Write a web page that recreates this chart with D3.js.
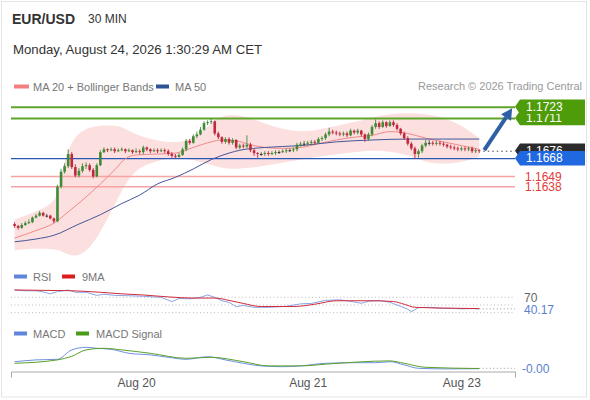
<!DOCTYPE html>
<html><head><meta charset="utf-8">
<script src="https://cdn.jsdelivr.net/npm/d3@7"></script>
<style>body{margin:0;background:#fff;font-family:"Liberation Sans",Arial,sans-serif}svg{display:block}</style>
</head><body><svg id="c" width="590" height="400"></svg>
<script>
// ---- data ----
const opens=[1.1598,1.1596,1.1594,1.1597,1.1599,1.1600,1.1605,1.1607,1.1610,1.1607,
 1.1607,1.1604,1.1601,1.1638,1.1654,1.1660,1.1673,1.1659,1.1650,1.1655,
 1.1660,1.1661,1.1656,1.1649,1.1661,1.1675,1.1678,1.1677,1.1678,1.1676,
 1.1677,1.1678,1.1676,1.1677,1.1675,1.1676,1.1675,1.1680,1.1678,1.1676,
 1.1677,1.1676,1.1677,1.1676,1.1673,1.1671,1.1670,1.1672,1.1678,1.1687,
 1.1685,1.1692,1.1694,1.1699,1.1706,1.1707,1.1708,1.1695,1.1691,1.1686,
 1.1689,1.1685,1.1688,1.1680,1.1682,1.1681,1.1683,1.1677,1.1674,1.1673,
 1.1673,1.1674,1.1673,1.1674,1.1675,1.1675,1.1676,1.1677,1.1677,1.1678,
 1.1683,1.1684,1.1684,1.1685,1.1686,1.1685,1.1689,1.1690,1.1694,1.1697,
 1.1696,1.1695,1.1694,1.1695,1.1693,1.1698,1.1696,1.1698,1.1694,1.1689,
 1.1694,1.1702,1.1706,1.1702,1.1707,1.1703,1.1707,1.1704,1.1700,1.1695,
 1.1690,1.1684,1.1679,1.1673,1.1676,1.1682,1.1685,1.1685,1.1684,1.1685,
 1.1684,1.1683,1.1681,1.1680,1.1679,1.1678,1.1679,1.1678,1.1679,1.1676,
 1.1677];
const highs=[1.1600,1.1597,1.1599,1.1601,1.1603,1.1606,1.1609,1.1612,1.1611,1.1609,
 1.1608,1.1605,1.1640,1.1657,1.1663,1.1678,1.1675,1.1662,1.1658,1.1663,
 1.1664,1.1663,1.1658,1.1663,1.1677,1.1680,1.1679,1.1680,1.1680,1.1679,
 1.1680,1.1679,1.1679,1.1678,1.1679,1.1678,1.1682,1.1681,1.1679,1.1679,
 1.1679,1.1679,1.1679,1.1678,1.1675,1.1673,1.1674,1.1680,1.1689,1.1689,
 1.1694,1.1697,1.1702,1.1708,1.1709,1.1711,1.1709,1.1697,1.1692,1.1691,
 1.1691,1.1690,1.1689,1.1684,1.1684,1.1693,1.1685,1.1679,1.1675,1.1675,
 1.1676,1.1676,1.1676,1.1677,1.1677,1.1678,1.1679,1.1679,1.1680,1.1685,
 1.1686,1.1687,1.1687,1.1688,1.1688,1.1691,1.1692,1.1696,1.1701,1.1699,
 1.1698,1.1697,1.1697,1.1697,1.1700,1.1699,1.1700,1.1699,1.1695,1.1696,
 1.1704,1.1710,1.1708,1.1709,1.1708,1.1709,1.1709,1.1706,1.1701,1.1697,
 1.1692,1.1686,1.1681,1.1678,1.1684,1.1688,1.1688,1.1687,1.1687,1.1687,
 1.1686,1.1684,1.1683,1.1682,1.1681,1.1681,1.1681,1.1681,1.1681,1.1679,
 1.1678];
const lows=[1.1594,1.1592,1.1593,1.1596,1.1598,1.1599,1.1604,1.1606,1.1606,1.1605,
 1.1603,1.1599,1.1600,1.1636,1.1652,1.1658,1.1657,1.1648,1.1648,1.1653,
 1.1657,1.1654,1.1647,1.1648,1.1660,1.1674,1.1675,1.1676,1.1674,1.1675,
 1.1676,1.1674,1.1675,1.1673,1.1674,1.1673,1.1673,1.1676,1.1674,1.1675,
 1.1674,1.1675,1.1674,1.1671,1.1669,1.1668,1.1669,1.1671,1.1676,1.1683,
 1.1684,1.1690,1.1693,1.1698,1.1704,1.1705,1.1693,1.1689,1.1684,1.1684,
 1.1683,1.1683,1.1678,1.1678,1.1679,1.1679,1.1675,1.1671,1.1669,1.1671,
 1.1671,1.1671,1.1672,1.1672,1.1673,1.1674,1.1674,1.1675,1.1675,1.1676,
 1.1681,1.1682,1.1682,1.1683,1.1683,1.1684,1.1687,1.1688,1.1692,1.1694,
 1.1693,1.1692,1.1692,1.1691,1.1692,1.1694,1.1694,1.1692,1.1686,1.1687,
 1.1692,1.1700,1.1700,1.1701,1.1701,1.1702,1.1702,1.1698,1.1693,1.1688,
 1.1682,1.1677,1.1668,1.1669,1.1674,1.1680,1.1682,1.1682,1.1682,1.1682,
 1.1681,1.1679,1.1678,1.1677,1.1676,1.1676,1.1676,1.1676,1.1674,1.1674,
 1.1674];
const closes=[1.1596,1.1594,1.1597,1.1599,1.1600,1.1605,1.1607,1.1610,1.1607,1.1607,
 1.1604,1.1601,1.1638,1.1654,1.1660,1.1673,1.1659,1.1650,1.1655,1.1660,
 1.1661,1.1656,1.1649,1.1661,1.1675,1.1678,1.1677,1.1678,1.1676,1.1677,
 1.1678,1.1676,1.1677,1.1675,1.1676,1.1675,1.1680,1.1678,1.1676,1.1677,
 1.1676,1.1677,1.1676,1.1673,1.1671,1.1670,1.1672,1.1678,1.1687,1.1685,
 1.1692,1.1694,1.1699,1.1706,1.1707,1.1708,1.1695,1.1691,1.1686,1.1689,
 1.1685,1.1688,1.1680,1.1682,1.1681,1.1683,1.1677,1.1674,1.1673,1.1673,
 1.1674,1.1673,1.1674,1.1675,1.1675,1.1676,1.1677,1.1677,1.1678,1.1683,
 1.1684,1.1684,1.1685,1.1686,1.1685,1.1689,1.1690,1.1694,1.1697,1.1696,
 1.1695,1.1694,1.1695,1.1693,1.1698,1.1696,1.1698,1.1694,1.1689,1.1694,
 1.1702,1.1706,1.1702,1.1707,1.1703,1.1707,1.1704,1.1700,1.1695,1.1690,
 1.1684,1.1679,1.1673,1.1676,1.1682,1.1685,1.1685,1.1684,1.1685,1.1684,
 1.1683,1.1681,1.1680,1.1679,1.1678,1.1679,1.1678,1.1679,1.1676,1.1677,
 1.1676];

const bbIdx=[0,6,12,13,15,18,22,27,30,32,35,40,45,48,52,55,58,62,66,72,80,85,90,95,100,105,110,115,120,125,130];
const bbUpper=[1.1603,1.1611,1.1622,1.1650,1.1680,1.1697,1.1703,1.1704,1.1702,1.1698,1.1692,1.1687,1.1685,1.1687,1.1695,1.1706,1.1714,1.1715,1.1712,1.1702,1.1696,1.1699,1.1703,1.1707,1.1712,1.1716,1.1717,1.1716,1.1712,1.1704,1.1690];
const bbLower=[1.1570,1.1572,1.1571,1.1569,1.1565,1.1563,1.1575,1.1611,1.1634,1.1647,1.1659,1.1666,1.1669,1.1668,1.1665,1.1661,1.1658,1.1657,1.1658,1.1662,1.1667,1.1670,1.1673,1.1675,1.1677,1.1676,1.1672,1.1664,1.1662,1.1664,1.1670];
const ma20Idx=[0,6,11,15,20,24,28,31,34,40,45,50,55,58,62,66,70,75,80,85,90,95,100,105,110,115,120,125,130];
const ma20=[1.1583,1.1591,1.1599,1.1611,1.1627,1.1641,1.1656,1.1668,1.1672,1.1673,1.1674,1.1680,1.1686,1.1688,1.1687,1.1683,1.1680,1.1679,1.1680,1.1684,1.1688,1.1691,1.1693,1.1697,1.1695,1.1690,1.1686,1.1682,1.1678];
const ma50Idx=[0,6,11,18,24,30,35,40,45,50,55,60,63,70,80,90,100,110,120,130];
const ma50=[1.1579,1.1582,1.1586,1.1598,1.1608,1.1620,1.1629,1.1641,1.1648,1.1657,1.1667,1.1674,1.1677,1.1680,1.1682,1.1686,1.1688,1.1689,1.1689,1.1689];

const resistLevels=[1.1711,1.1723];
const pivotLevel=1.1668;
const supportLevels=[1.1649,1.1638];
const targetPrice=1.1723;

const rsiIdx=[0,3,6,8,10,12,15,17,20,23,25,28,32,36,41,44,46,49,52,54,56,58,60,62,64,67,71,76,80,83,87,91,94,97,99,102,105,108,110,111,113,116,119,122,125,128,130];
const rsi=[89,87,87,84,79,85,89,83,83,75,78,75,74,72.6,70,58.6,67,66,70,76,70,61,57,45.6,49,44,44,46.6,53,54,62,63.5,59.6,54.4,59.6,62,57,46.6,38.8,32.6,43,44,41.4,41.4,40,40.6,40.17];
const rsiMaIdx=[0,8,16,24,30,36,43,50,56,60,64,69,78,84,90,100,106,109,112,120,130];
const rsiMa=[89,88,87,83,79,76,71,68,68,62,54,46,46,52,61,61,59,52,44,42,40.6];
const rsiLevels=[70,50,30];

const macdIdx=[0,6,12,16,20,23,27,32,38,43,48,54,59,64,69,75,80,87,95,101,105,109,113,121,130];
const macd=[0.00033,0.00042,0.00045,0.00092,0.00105,0.00100,0.00095,0.00075,0.00067,0.00055,0.00045,0.00058,0.00042,0.00025,0.00012,0.00008,0.00012,0.00025,0.00028,0.00028,0.00033,0.00017,0.00000,-0.00003,-0.00002];
const signalIdx=[0,12,16,20,25,30,38,48,55,64,71,80,88,105,109,115,130];
const signal=[0.00025,0.00042,0.00060,0.00092,0.00100,0.00092,0.00075,0.00050,0.00055,0.00033,0.00012,0.00012,0.00022,0.00037,0.00025,0.00005,-0.00001];

const dateTickIdx=[34,82,125];
const dateTickLabels=["Aug 20","Aug 21","Aug 23"];

// ---- drawing ----
const svg=d3.select("#c");
const F='"Liberation Sans",Arial,sans-serif';
svg.append("rect").attr("x",1.5).attr("y",1.5).attr("width",585).attr("height",395.5).attr("fill","#fff").attr("stroke","#e4e4e4");

const x=d3.scaleLinear().domain([-1,140]).range([11,515]);
const y=d3.scaleLinear().domain([1.1723,1.1638]).range([107.3,186.7]);
const yR=d3.scaleLinear().domain([70,30]).range([297.3,312.7]);
const yM=d3.scaleLinear().domain([0,0.001]).range([368.3,348.3]);
const n=closes.length;

// header
svg.append("text").attr("x",12).attr("y",24).attr("font-family",F).attr("font-size",14).attr("font-weight","bold").attr("fill","#333").text("EUR/USD");
svg.append("text").attr("x",88).attr("y",23).attr("font-family",F).attr("font-size",12).attr("fill","#333").text("30 MIN");
svg.append("text").attr("x",13).attr("y",54).attr("font-family",F).attr("font-size",13.2).attr("fill","#333").text("Monday, August 24, 2026 1:30:29 AM CET");

function legend(items,yy){
  items.forEach(it=>{
    svg.append("rect").attr("x",it.x).attr("y",yy-2).attr("width",it.w).attr("height",4).attr("fill",it.c);
    svg.append("text").attr("x",it.tx).attr("y",yy+4).attr("font-family",F).attr("font-size",11).attr("fill","#777").text(it.t);
  });
}
legend([{x:14,w:15,c:"#f47f7f",tx:33,t:"MA 20 + Bollinger Bands"},{x:156,w:13,c:"#2e5396",tx:175,t:"MA 50"}],86.5);
svg.append("text").attr("x",582).attr("y",90).attr("text-anchor","end").attr("font-family",F).attr("font-size",11).attr("fill","#9a9a9a").text("Research \u00a9 2026 Trading Central");

// Bollinger band area
const bbData=bbIdx.map((d,i)=>({i:d,u:bbUpper[i],l:bbLower[i]}));
svg.append("path").datum(bbData).attr("fill","#fcdcdc").attr("opacity",0.9)
  .attr("d",d3.area().x(d=>x(d.i)).y0(d=>y(d.l)).y1(d=>y(d.u)).curve(d3.curveBasis));

// horizontal levels
const xL=11,xR=515;
resistLevels.forEach(v=>svg.append("line").attr("x1",xL).attr("x2",xR).attr("y1",y(v)).attr("y2",y(v)).attr("stroke","#5ea52a").attr("stroke-width",2));
supportLevels.forEach(v=>svg.append("line").attr("x1",xL).attr("x2",xR).attr("y1",y(v)).attr("y2",y(v)).attr("stroke","#f5a3a3").attr("stroke-width",1.5));
svg.append("line").attr("x1",xL).attr("x2",xR).attr("y1",y(pivotLevel)).attr("y2",y(pivotLevel)).attr("stroke","#2a58b8").attr("stroke-width",1.3);

// MA lines
const lineIdx=(idx,vals,sc)=>d3.line().x((d,i)=>x(idx[i])).y(d=>sc(d)).curve(d3.curveMonotoneX)(vals);
svg.append("path").attr("d",lineIdx(ma20Idx,ma20,y)).attr("fill","none").attr("stroke","#f08a8a").attr("stroke-width",1);
svg.append("path").attr("d",lineIdx(ma50Idx,ma50,y)).attr("fill","none").attr("stroke","#44579a").attr("stroke-width",1);

// candles
const cw=2.6;
const cg=svg.append("g");
for(let i=0;i<n;i++){
  const o=opens[i],c=closes[i];
  const col=c>o?"#3f8a35":(c<o?"#c0283e":"#222");
  const xc=x(i);
  cg.append("line").attr("x1",xc).attr("x2",xc).attr("y1",y(highs[i])).attr("y2",y(lows[i])).attr("stroke",c===o?"#555":col).attr("stroke-width",0.9);
  const top=y(Math.max(o,c)),bot=y(Math.min(o,c));
  cg.append("rect").attr("x",xc-cw/2).attr("y",top).attr("width",cw).attr("height",Math.max(bot-top,0.9)).attr("fill",col);
}

// last price dotted line
const last=closes[n-1];
svg.append("line").attr("x1",x(n-1)+4).attr("x2",xR).attr("y1",y(last)).attr("y2",y(last)).attr("stroke","#444").attr("stroke-width",1).attr("stroke-dasharray","1.5,3");

// arrow
const ax1=x(n-1)+5,ay1=y(last)-1,ax2=x(139.2),ay2=y(targetPrice)+1;
const ang=Math.atan2(ay2-ay1,ax2-ax1);
const hl=11,hw=6;
const bx=ax2-hl*Math.cos(ang),by=ay2-hl*Math.sin(ang);
svg.append("line").attr("x1",ax1).attr("y1",ay1).attr("x2",bx).attr("y2",by).attr("stroke","#2f5fa5").attr("stroke-width",4);
svg.append("path").attr("d",`M${ax2},${ay2}L${bx+hw*Math.sin(ang)},${by-hw*Math.cos(ang)}L${bx-hw*Math.sin(ang)},${by+hw*Math.cos(ang)}Z`).attr("fill","#2f5fa5");

// tags
function tag(v,fill,txt){
  const cy=y(v)-0.5,h=14.5;
  svg.append("path").attr("d",`M515,${cy}L520,${cy-h/2}L585,${cy-h/2}L585,${cy+h/2}L520,${cy+h/2}Z`).attr("fill",fill);
  svg.append("text").attr("x",526).attr("y",cy+4.3).attr("font-family",F).attr("font-size",12).attr("fill",txt).text(v.toFixed(4));
}
tag(resistLevels[0],"#4f9c0b","#fff");
tag(resistLevels[1],"#4f9c0b","#fff");
tag(last,"#2b2b2b","#fff");
tag(pivotLevel,"#1f68e0","#fff");
supportLevels.forEach(v=>svg.append("text").attr("x",525).attr("y",y(v)+4.3).attr("font-family",F).attr("font-size",12).attr("fill","#e23a3a").text(v.toFixed(4)));

// RSI panel
legend([{x:14,w:13,c:"#5f86dc",tx:33,t:"RSI"},{x:62,w:13,c:"#dd1c1c",tx:82,t:"9MA"}],276.5);
rsiLevels.forEach(v=>svg.append("line").attr("x1",xL).attr("x2",xR).attr("y1",yR(v)).attr("y2",yR(v)).attr("stroke","#bbb").attr("stroke-width",1).attr("stroke-dasharray","1,2.5"));
svg.append("line").attr("x1",x(130)).attr("x2",xR).attr("y1",yR(rsi[rsi.length-1])).attr("y2",yR(rsi[rsi.length-1])).attr("stroke","#999").attr("stroke-dasharray","1,2.5");
svg.append("path").attr("d",d3.line().x((d,i)=>x(rsiIdx[i])).y(d=>yR(d))(rsi)).attr("fill","none").attr("stroke","#7d9be0").attr("stroke-width",0.9);
svg.append("path").attr("d",lineIdx(rsiMaIdx,rsiMa,yR)).attr("fill","none").attr("stroke","#cf2a3a").attr("stroke-width",1);
svg.append("text").attr("x",524).attr("y",yR(70)+4.3).attr("font-family",F).attr("font-size",12).attr("fill","#666").text("70");
svg.append("text").attr("x",524).attr("y",yR(40.17)+5).attr("font-family",F).attr("font-size",12).attr("fill","#5b7fd0").text(rsi[rsi.length-1].toFixed(2));

// MACD panel
legend([{x:14,w:13,c:"#5f86dc",tx:33,t:"MACD"},{x:76,w:13,c:"#4a9a1c",tx:96,t:"MACD Signal"}],333.5);
svg.append("line").attr("x1",x(130)).attr("x2",xR).attr("y1",yM(0)).attr("y2",yM(0)).attr("stroke","#999").attr("stroke-dasharray","1,2.5");
svg.append("path").attr("d",lineIdx(macdIdx,macd,yM)).attr("fill","none").attr("stroke","#6f90e0").attr("stroke-width",1);
svg.append("path").attr("d",lineIdx(signalIdx,signal,yM)).attr("fill","none").attr("stroke","#5aa02c").attr("stroke-width",1);
svg.append("text").attr("x",522).attr("y",yM(0)+4.3).attr("font-family",F).attr("font-size",12).attr("fill","#5b7fd0").text("-0.00");

// x axis
const ax=svg.append("g").attr("transform","translate(0,371.5)")
  .call(d3.axisBottom(x).tickValues(dateTickIdx).tickFormat((d,i)=>dateTickLabels[i]).tickSizeInner(0).tickSizeOuter(6).tickPadding(7));
ax.select(".domain").attr("stroke","#aaa");
ax.selectAll("text").attr("font-family",F).attr("font-size",12).attr("fill","#555");
</script></body></html>
